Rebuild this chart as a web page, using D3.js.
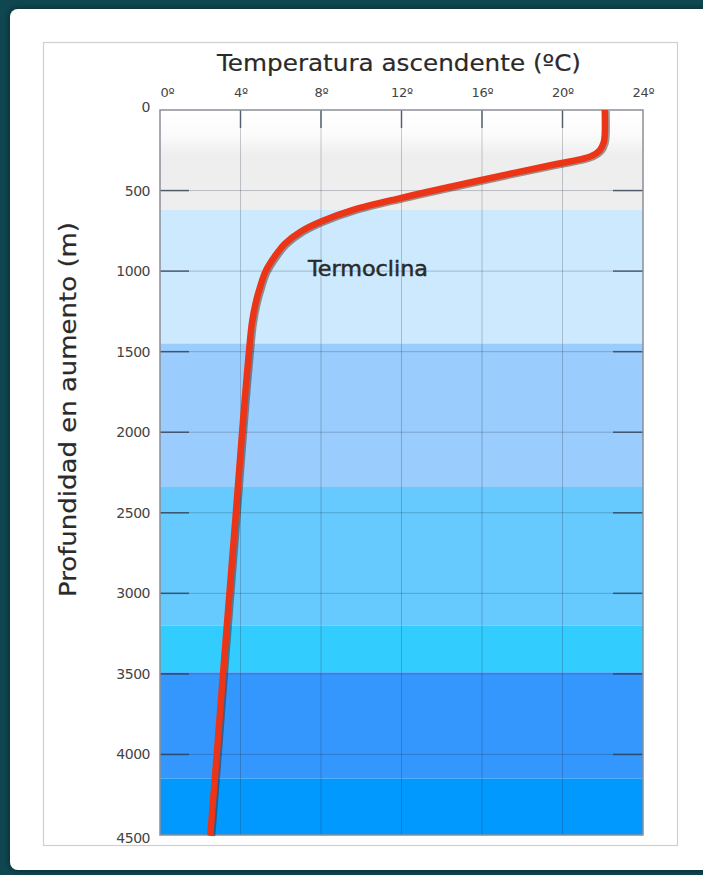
<!DOCTYPE html>
<html>
<head>
<meta charset="utf-8">
<script src="https://cdn.jsdelivr.net/npm/d3@7"></script>
<style>
  html, body { margin: 0; padding: 0; background: #0f4650; }
  svg { display: block; }
</style>
</head>
<body>
<div id="chart"></div>
<script>
// depth profile (m) and temperature (ºC)
var depthVals = [0, 150, 200, 250, 285, 310, 335, 390, 475, 545, 620, 692, 754, 830, 909, 1000, 1095, 1200, 1320, 1500, 1740, 2000, 2500, 3000, 3500, 4000, 4500];
var tempVals = [22.1, 22.1, 22.05, 21.85, 21.45, 20.75, 19.7, 17.6, 14.5, 12.0, 9.6, 8.0, 7.0, 6.2, 5.7, 5.25, 4.98, 4.75, 4.57, 4.42, 4.25, 4.08, 3.77, 3.45, 3.13, 2.82, 2.5];

// background water layers
var bandTop = [0, 620, 1450, 2340, 3200, 3490, 4150];
var bandBottom = [620, 1450, 2340, 3200, 3490, 4150, 4500];
var bandColor = ["url(#topFade)", "#cce9fd", "#9accfd", "#66caff", "#33ccff", "#3397fd", "#0299fe"];

var tempTicks = [0, 4, 8, 12, 16, 20, 24];
var depthTicks = [0, 500, 1000, 1500, 2000, 2500, 3000, 3500, 4000, 4500];

var svgWidth = 703;
var svgHeight = 875;

var margin = { top: 110, right: 60, bottom: 40, left: 160 };
var width = 643 - margin.left;
var height = 835 - margin.top;

var svg = d3.select("#chart")
  .append("svg")
  .attr("width", svgWidth)
  .attr("height", svgHeight);

var defs = svg.append("defs");

var fade = defs.append("linearGradient")
  .attr("id", "topFade")
  .attr("x1", 0).attr("y1", 0).attr("x2", 0).attr("y2", 1);
fade.append("stop").attr("offset", "0%").attr("stop-color", "#ffffff");
fade.append("stop").attr("offset", "25%").attr("stop-color", "#fbfbfb");
fade.append("stop").attr("offset", "45%").attr("stop-color", "#eeeeee");
fade.append("stop").attr("offset", "100%").attr("stop-color", "#eeeeee");

var shadow = defs.append("filter")
  .attr("id", "cardShadow")
  .attr("x", "-5%").attr("y", "-5%").attr("width", "110%").attr("height", "110%");
shadow.append("feDropShadow")
  .attr("dx", 0).attr("dy", 0)
  .attr("stdDeviation", 3)
  .attr("flood-color", "#000")
  .attr("flood-opacity", 0.5);

// white card over the dark background
svg.append("rect")
  .attr("x", 10)
  .attr("y", 9)
  .attr("width", 705)
  .attr("height", 861)
  .attr("rx", 8)
  .attr("fill", "#ffffff")
  .attr("filter", "url(#cardShadow)");

// light frame around the figure
svg.append("rect")
  .attr("x", 43.5)
  .attr("y", 42.5)
  .attr("width", 634)
  .attr("height", 803)
  .attr("fill", "none")
  .attr("stroke", "#cfcfcf")
  .attr("stroke-width", 1.2);

var chartGroup = svg.append("g")
  .attr("transform", `translate(${margin.left}, ${margin.top})`);

var xScale = d3.scaleLinear().domain([0, 24]).range([0, width]);
var yScale = d3.scaleLinear().domain([0, 4500]).range([0, height]);

// layers
chartGroup.selectAll(".band")
  .data(bandTop)
  .enter()
  .append("rect")
  .attr("class", "band")
  .attr("x", 0)
  .attr("width", width)
  .attr("y", d => yScale(d))
  .attr("height", (d, i) => yScale(bandBottom[i]) - yScale(d))
  .attr("fill", (d, i) => bandColor[i]);

// grid lines
chartGroup.selectAll(".vgrid")
  .data(tempTicks.slice(1, -1))
  .enter()
  .append("line")
  .attr("x1", d => xScale(d)).attr("x2", d => xScale(d))
  .attr("y1", 0).attr("y2", height)
  .attr("stroke", "#203040")
  .attr("stroke-opacity", 0.25)
  .attr("stroke-width", 1);

chartGroup.selectAll(".hgrid")
  .data(depthTicks.slice(1, -1))
  .enter()
  .append("line")
  .attr("x1", 0).attr("x2", width)
  .attr("y1", d => yScale(d)).attr("y2", d => yScale(d))
  .attr("stroke", "#203040")
  .attr("stroke-opacity", 0.25)
  .attr("stroke-width", 1);

// top axis
var topAxis = d3.axisTop(xScale)
  .tickValues(tempTicks)
  .tickSize(0)
  .tickPadding(13)
  .tickFormat(d => d + "º");

var xAxis = chartGroup.append("g").call(topAxis);
xAxis.select(".domain").remove();
xAxis.selectAll("text")
  .attr("font-family", "DejaVu Sans, sans-serif")
  .attr("font-size", 13)
  .attr("letter-spacing", -0.3)
  .attr("fill", "#444")
  .attr("dx", (d, i) => i === 0 ? 7 : 0);

// left axis labels
var leftAxis = d3.axisLeft(yScale)
  .tickValues(depthTicks)
  .tickSize(0)
  .tickPadding(10)
  .tickFormat(d3.format("d"));

var yAxis = chartGroup.append("g").call(leftAxis);
yAxis.select(".domain").remove();
yAxis.selectAll("text")
  .attr("font-family", "DejaVu Sans, sans-serif")
  .attr("font-size", 14)
  .attr("letter-spacing", -0.5)
  .attr("fill", "#444")
  .attr("dy", (d, i) => i === 0 ? "0.1em" : (i === depthTicks.length - 1 ? "0.5em" : "0.32em"));

// inner tick marks
chartGroup.selectAll(".ltick")
  .data(depthTicks.slice(1, -1))
  .enter()
  .append("line")
  .attr("x1", 0).attr("x2", 29)
  .attr("y1", d => yScale(d)).attr("y2", d => yScale(d))
  .attr("stroke", "#2b3a4a")
  .attr("stroke-opacity", 0.75)
  .attr("stroke-width", 1.5);

chartGroup.selectAll(".rtick")
  .data(depthTicks.slice(1, -1))
  .enter()
  .append("line")
  .attr("x1", width - 30).attr("x2", width)
  .attr("y1", d => yScale(d)).attr("y2", d => yScale(d))
  .attr("stroke", "#2b3a4a")
  .attr("stroke-opacity", 0.75)
  .attr("stroke-width", 1.5);

chartGroup.selectAll(".ttick")
  .data(tempTicks.slice(1, -1))
  .enter()
  .append("line")
  .attr("x1", d => xScale(d)).attr("x2", d => xScale(d))
  .attr("y1", 0).attr("y2", 18)
  .attr("stroke", "#2b3a4a")
  .attr("stroke-opacity", 0.75)
  .attr("stroke-width", 1.5);

// plot border
chartGroup.append("rect")
  .attr("x", 0).attr("y", 0)
  .attr("width", width).attr("height", height)
  .attr("fill", "none")
  .attr("stroke", "#8a8f96")
  .attr("stroke-width", 1.5);

// temperature profile
var line = d3.line()
  .x((d, i) => xScale(tempVals[i]))
  .y(d => yScale(d))
  .curve(d3.curveCatmullRom.alpha(0.5));

chartGroup.append("path")
  .datum(depthVals)
  .attr("d", line)
  .attr("transform", "translate(1.5, 1)")
  .attr("fill", "none")
  .attr("stroke", "#3a1a10")
  .attr("stroke-opacity", 0.45)
  .attr("stroke-width", 7);

chartGroup.append("path")
  .datum(depthVals)
  .attr("d", line)
  .attr("fill", "none")
  .attr("stroke", "#ec3416")
  .attr("stroke-width", 6.5);

// annotation
chartGroup.append("text")
  .attr("x", 148)
  .attr("y", 166)
  .attr("font-family", "DejaVu Sans, sans-serif")
  .attr("font-size", 21)
  .attr("textLength", 120)
  .attr("lengthAdjust", "spacingAndGlyphs")
  .attr("fill", "#2a2a2a")
  .attr("stroke", "#2a2a2a")
  .attr("stroke-width", 0.5)
  .text("Termoclina");

// titles
svg.append("text")
  .attr("x", 217)
  .attr("y", 71)
  .attr("font-family", "DejaVu Sans, sans-serif")
  .attr("font-size", 23)
  .attr("textLength", 364)
  .attr("lengthAdjust", "spacingAndGlyphs")
  .attr("fill", "#2a2a2a")
  .attr("stroke", "#2a2a2a")
  .attr("stroke-width", 0.2)
  .text("Temperatura ascendente (ºC)");

svg.append("text")
  .attr("transform", "translate(76, 597) rotate(-90)")
  .attr("font-family", "DejaVu Sans, sans-serif")
  .attr("font-size", 23)
  .attr("textLength", 375)
  .attr("lengthAdjust", "spacingAndGlyphs")
  .attr("fill", "#2a2a2a")
  .attr("stroke", "#2a2a2a")
  .attr("stroke-width", 0.2)
  .text("Profundidad en aumento (m)");
</script>
</body>
</html>
